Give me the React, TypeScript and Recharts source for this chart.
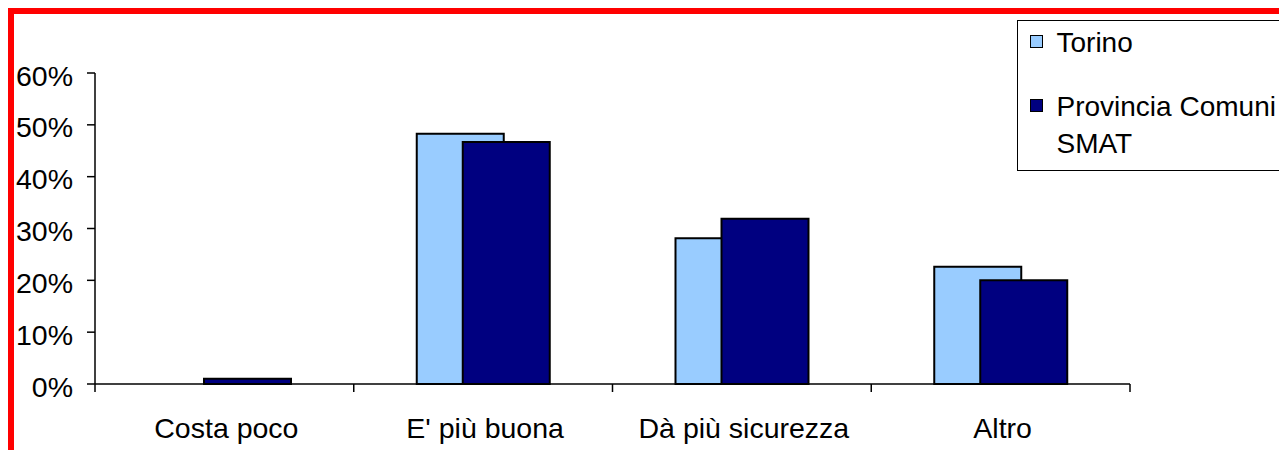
import React from "react";
import { BarChart, Bar, XAxis, YAxis } from "recharts";

const categories = ["Costa poco", "E' più buona", "Dà più sicurezza", "Altro"];
const torino = [0, 48.3, 28.1, 22.6];
const provincia = [1.0, 46.7, 31.9, 20.0];
const yTicks = [0, 10, 20, 30, 40, 50, 60];
const seriesNames = ["Torino", "Provincia Comuni SMAT"];
const seriesColors = ["#99CCFF", "#000080"];

const data = categories.map((c, i) => ({ name: c, torino: torino[i], provincia: provincia[i] }));

const FONT = "'Liberation Sans', Arial, Helvetica, sans-serif";
const FS = 28.5;
const CHART_W = 1200;
const CHART_H = 440;
const MARGIN = { top: 65, right: 78, bottom: 0, left: 0 };
const YAXIS_W = 87;
const XAXIS_H = 64;
const PLOT_W = CHART_W - MARGIN.right - MARGIN.left - YAXIS_W;
const BAND = PLOT_W / categories.length;

const XTick = (props: any) => {
  const { x, y, payload, index } = props;
  const axisY = y - 8;
  const half = BAND / 2;
  return (
    <g>
      <line x1={x - half} y1={axisY} x2={x - half} y2={axisY + 8} stroke="#000" strokeWidth={1.5} />
      {index === categories.length - 1 && (
        <line x1={x + half} y1={axisY} x2={x + half} y2={axisY + 8} stroke="#000" strokeWidth={1.5} />
      )}
      <text x={x + 2} y={axisY + 54} textAnchor="middle" fontFamily={FONT} fontSize={FS} fill="#000">
        {payload.value}
      </text>
    </g>
  );
};

const YTick = (props: any) => {
  const { x, y, payload } = props;
  return (
    <text x={x} y={y + 12.5} textAnchor="end" fontFamily={FONT} fontSize={FS} fill="#000">
      {payload.value + "%"}
    </text>
  );
};

const LegendBox = () => (
  <div
    style={{
      position: "absolute",
      left: 1009,
      top: 12,
      width: 320,
      height: 151,
      border: "1.5px solid #000",
      boxSizing: "border-box",
      background: "#fff",
      fontFamily: FONT,
      fontSize: 28,
      lineHeight: "37px",
      color: "#000",
      paddingTop: 3,
    }}
  >
    {seriesNames.map((n, i) => (
      <div key={n} style={{ display: "flex", alignItems: "flex-start", marginTop: i === 0 ? 0 : 27 }}>
        <div
          style={{
            width: 13,
            height: 13,
            marginTop: 11,
            marginLeft: 11.5,
            background: seriesColors[i],
            border: "1px solid #000",
            boxSizing: "border-box",
            flexShrink: 0,
          }}
        />
        <div style={{ marginLeft: 14, width: 230 }}>{n}</div>
      </div>
    ))}
  </div>
);

export default function App() {
  return (
    <div
      style={{
        position: "fixed",
        left: 8,
        top: 8,
        width: 1271,
        height: 442,
        overflow: "hidden",
        background: "#fff",
      }}
    >
      <div
        style={{
          position: "absolute",
          left: 0,
          top: 0,
          width: 1400,
          height: 600,
          border: "6px solid #FF0000",
          boxSizing: "border-box",
        }}
      />
      <div style={{ position: "absolute", left: 0, top: 0 }}>
        <BarChart
          width={CHART_W}
          height={CHART_H}
          data={data}
          margin={MARGIN}
          barSize={87}
          barGap={-41}
          style={{ fontFamily: FONT }}
        >
          <XAxis
            dataKey="name"
            height={XAXIS_H}
            tickLine={false}
            tickSize={8}
            tickMargin={0}
            axisLine={{ stroke: "#000", strokeWidth: 1.5 }}
            tick={<XTick />}
            interval={0}
          />
          <YAxis
            width={YAXIS_W}
            domain={[0, 60]}
            ticks={yTicks}
            interval={0}
            tickSize={8}
            tickMargin={14}
            axisLine={{ stroke: "#000", strokeWidth: 1.5 }}
            tickLine={{ stroke: "#000", strokeWidth: 1.5 }}
            tick={<YTick />}
          />
          <Bar dataKey="torino" name={seriesNames[0]} fill={seriesColors[0]} stroke="#000" strokeWidth={2} isAnimationActive={false} />
          <Bar dataKey="provincia" name={seriesNames[1]} fill={seriesColors[1]} stroke="#000" strokeWidth={2} isAnimationActive={false} />
        </BarChart>
      </div>
      <LegendBox />
    </div>
  );
}
